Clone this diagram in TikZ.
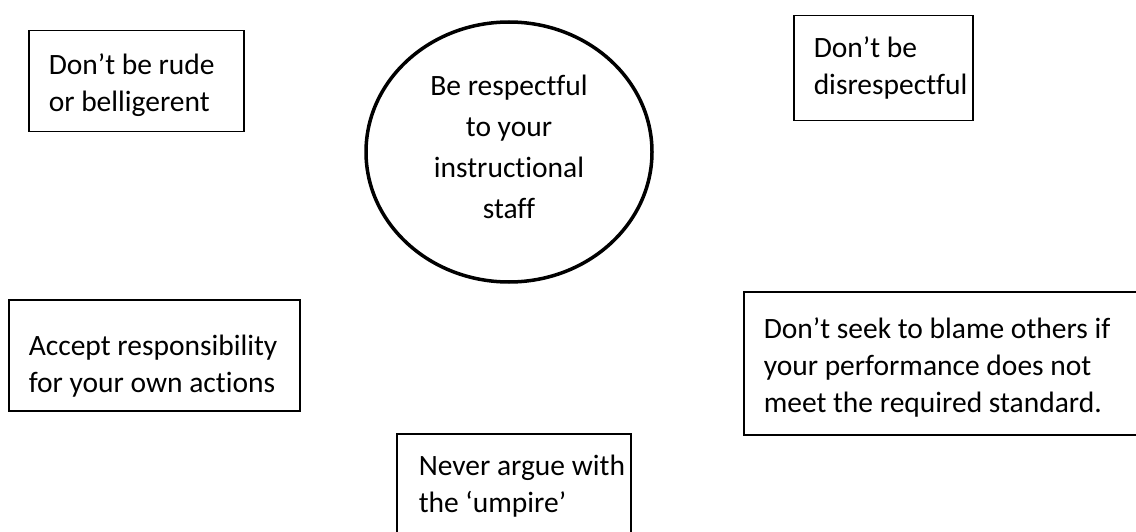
\documentclass[tikz,border=0pt]{standalone}
\usepackage{fontspec}
\setmainfont{Carlito}[Ligatures=NoCommon]
\usetikzlibrary{shapes.geometric}
\tikzset{
  box/.style={draw=black, line width=1.5pt, rectangle, anchor=north west, inner xsep=20pt, inner ysep=0pt, align=flush left,
    font=\fontsize{29.5}{37}\selectfont},
  oval/.style={draw=black, line width=3.5pt, ellipse, inner sep=0pt, align=center,
    font=\fontsize{29.5}{41}\selectfont}
}
\begin{document}
\begin{tikzpicture}[x=1pt,y=-1pt]
\useasboundingbox (0,0) rectangle (1136,532);
\clip (0,0) rectangle (1136,532);
\node[oval, minimum width=286pt, minimum height=260pt] (c) at (509,152) {Be respectful\\to your\\instructional\\staff\rule[-10pt]{0pt}{10pt}};
\node[box, minimum height=101pt, text width=175pt] (b1) at (28,30) {\rule{0pt}{28pt}Don’t be rude\\or belligerent};
\node[box, minimum height=105pt, text width=139pt] (b2) at (793,15) {Don’t be\\disrespectful};
\node[box, minimum height=111pt, text width=251pt] (b3) at (8,299) {\rule{0pt}{42pt}Accept responsibility\\for your own actions};
\node[box, minimum height=143pt, text width=367pt] (b4) at (743,291) {\rule{0pt}{30pt}Don’t seek to blame others if\\your performance does not\\meet the required standard.};
\node[box, inner xsep=0pt, minimum height=105pt, text width=234pt] (b5) at (396,433) {\hspace*{22pt}Never argue with\\\hspace*{22pt}the ‘umpire’};
\end{tikzpicture}
\end{document}
